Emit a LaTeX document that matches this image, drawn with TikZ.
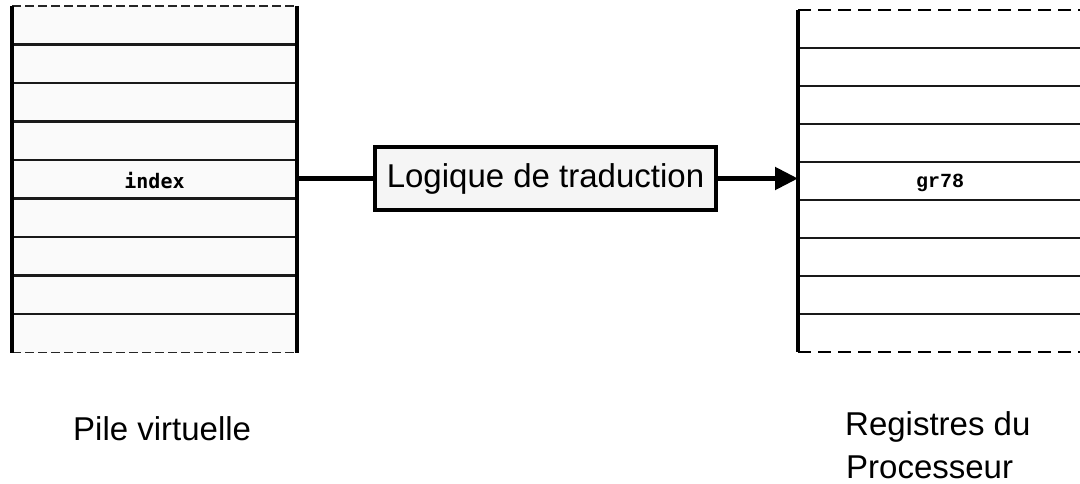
\documentclass[tikz,border=0pt]{standalone}
\usepackage{fontspec}
\setmainfont{Liberation Sans}
\newfontfamily\monoA{DejaVu Sans Mono}
\newfontfamily\monoB{Liberation Mono}
\usetikzlibrary{arrows.meta,calc}
\begin{document}
\begin{tikzpicture}[x=1pt,y=-1pt,
  stackbox/.style={draw=none,inner sep=0pt,outer sep=0pt,anchor=north west},
  sideline/.style={line width=3.5pt,black},
  rowline/.style={line width=2.3pt,black!90},
  thindash/.style={line width=1.8pt,black!85,dash pattern=on 9pt off 4pt},
  bigdash/.style={line width=2.4pt,black,dash pattern=on 13pt off 7pt},
  cellA/.style={font=\monoA\bfseries\fontsize{20}{24}\selectfont},
  cellB/.style={font=\monoB\bfseries\fontsize{20}{24}\selectfont},
  logicbox/.style={draw,line width=4pt,fill=black!4,inner sep=0pt,
    minimum width=341pt,minimum height=63pt,
    font=\fontsize{33}{40}\selectfont},
  conn/.style={line width=5pt,black},
  label/.style={anchor=base west,inner sep=0pt,font=\fontsize{33}{40}\selectfont}
]
\useasboundingbox (0,0) rectangle (1080,484);

% left stack
\node[stackbox,minimum width=285pt,minimum height=346.5pt,fill=black!2] (pile) at (12,6) {};
\foreach \i in {1,...,8}
  \draw[rowline] ($(pile.north west)+(0,\i*38.5)$) -- ++(285,0);
\draw[thindash] (pile.north west) -- (pile.north east);
\draw[thindash] (pile.south west) -- (pile.south east);
\draw[sideline] (pile.north west) -- (pile.south west);
\draw[sideline] (pile.north east) -- (pile.south east);
\node[cellA] (idx) at (154.5,181) {index};

% right stack
\node[stackbox,minimum width=284pt,minimum height=342pt] (regs) at (798,10) {};
\foreach \i in {1,...,8}
  \draw[rowline] ($(regs.north west)+(0,\i*38)$) -- ++(284,0);
\draw[bigdash] (regs.north west) -- (regs.north east);
\draw[bigdash] (regs.south west) -- (regs.south east);
\draw[sideline] (regs.north west) -- (regs.south west);
\node[cellB] (gr) at (940,183) {gr78};

% translation logic
\node[logicbox] (logic) at (545.5,178.5) {\raisebox{-3pt}{Logique de traduction}};

% connectors
\draw[conn] (logic.west -| pile.east) -- (logic.west);
\draw[conn,-{Triangle[length=23pt,width=22pt]}] (logic.east) -- (logic.east -| regs.west);

% labels
\node[label] (lpile) at (73,440) {Pile virtuelle};
\node[label] (lreg1) at (845,435) {Registres du};
\node[label] (lreg2) at (846,478) {Processeur};
\end{tikzpicture}
\end{document}
